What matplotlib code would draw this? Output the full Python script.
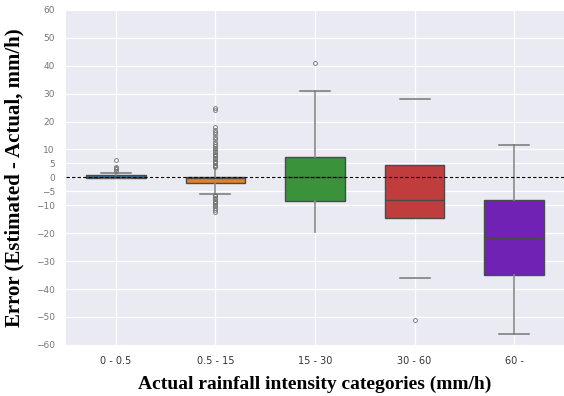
import matplotlib
matplotlib.use("Agg")
import matplotlib.pyplot as plt

categories = ["0 - 0.5", "0.5 - 15", "15 - 30", "30 - 60", "60 -"]
q1 = [-0.2, -2.0, -8.4, -14.6, -34.9]
median = [0.3, -0.3, 0.0, -8.0, -21.6]
q3 = [0.8, 0.2, 7.4, 4.6, -8.0]
whis_lo = [-0.2, -5.9, -19.4, -36.0, -56.0]
whis_hi = [1.7, 3.2, 31.0, 28.2, 11.6]
fliers = [
    [2.2, 2.9, 3.3, 3.8, 6.1],
    [3.6, 4.0, 4.5, 5.0, 5.5, 6.0, 6.5, 7.0, 7.5, 8.0, 8.5, 9.0, 9.5, 10.0,
     10.6, 11.2, 12.0, 12.8, 13.6, 14.5, 15.4, 16.2, 17.0, 18.0, 24.0, 24.8,
     -6.3, -6.8, -7.3, -7.8, -8.3, -8.8, -9.3, -9.8, -10.4, -11.0, -11.6, -12.3],
    [41.0],
    [-51.0],
    [],
]
colors = ["#3274a1", "#e1812c", "#3a923a", "#c03d3e", "#7022b4"]
yticks = [-60, -50, -40, -30, -20, -10, -5, 0, 5, 10, 20, 30, 40, 50, 60]

fig = plt.figure(figsize=(5.64, 3.96), dpi=100)
ax = fig.add_axes([0.117, 0.129, 0.883, 0.846])
ax.set_facecolor("#eaeaf2")
for s in ax.spines.values():
    s.set_visible(False)

stats = []
for i, name in enumerate(categories):
    stats.append(dict(label=name, q1=q1[i], med=median[i], q3=q3[i],
                      whislo=whis_lo[i], whishi=whis_hi[i], fliers=fliers[i]))

bp = ax.bxp(stats, positions=range(len(categories)), widths=0.6,
            patch_artist=True, capwidths=0.3,
            boxprops=dict(edgecolor="#4a4a4a", linewidth=1.0),
            medianprops=dict(color="#4a4a4a", linewidth=1.0),
            whiskerprops=dict(color="#8a8a8a", linewidth=1.2),
            capprops=dict(color="#777777", linewidth=1.1),
            flierprops=dict(marker="o", markersize=2.8, markerfacecolor="none",
                            markeredgecolor="#707070", markeredgewidth=0.6),
            zorder=3)
for patch, c in zip(bp["boxes"], colors):
    patch.set_facecolor(c)
# whiskers missing in the original for the 30-60 box, lower cap of 15-30,
# upper cap of 0.5-15 buried under the fliers
bp["whiskers"][6].set_visible(False)
bp["whiskers"][7].set_visible(False)
bp["caps"][4].set_visible(False)
bp["caps"][3].set_visible(False)

ax.axhline(0, color="black", linestyle=(0, (3, 2)), linewidth=0.8, zorder=4)

ax.set_xlim(-0.5, 4.5)
ax.set_ylim(-60, 60)
ax.set_yticks(yticks)
ax.set_yticklabels([str(t).replace("-", "\u2212") for t in yticks])
ax.set_xticks(range(len(categories)))
ax.set_xticklabels(categories)
ax.grid(color="white", linewidth=0.9, zorder=0)
ax.set_axisbelow(True)
ax.tick_params(axis="y", length=0, labelsize=6.5, labelcolor="#777777", pad=8)
ax.tick_params(axis="x", length=0, labelsize=7, labelcolor="#333333", pad=8)

ax.set_xlabel("Actual rainfall intensity categories (mm/h)",
              family="Liberation Serif", fontweight="bold", fontsize=14,
              labelpad=7)
ax.set_ylabel("Error (Estimated - Actual, mm/h)",
              family="Liberation Serif", fontweight="bold", fontsize=15,
              labelpad=8)

fig.savefig("out.png", dpi=100)
